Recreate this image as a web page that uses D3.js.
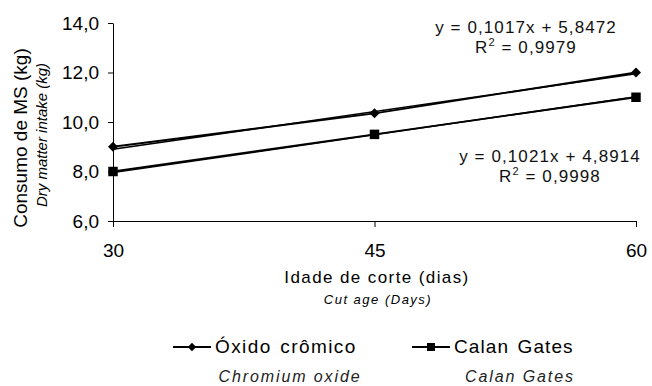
<!DOCTYPE html>
<html>
<head>
<meta charset="utf-8">
<script src="https://cdn.jsdelivr.net/npm/d3@7"></script>
<style>
  body { margin: 0; background: #fff; }
  svg text { font-family: "Liberation Sans", Arial, Helvetica, sans-serif; }
  .axis path, .axis line { stroke: #000; stroke-width: 1; }
  .axis text { font-size: 19px; fill: #000; }
</style>
</head>
<body>
<script>
// Chart data
const days = [30, 45, 60];
const oxido = [9.0, 10.35, 12.0];
const calan = [8.0, 9.5, 11.0];
const yTicks = [6, 8, 10, 12, 14];

// Trend line coefficients (y = a*x + b)
const slopes = [0.1017, 0.1021];
const intercepts = [5.8472, 4.8914];
const eqLabels = ["y = 0,1017x + 5,8472", "y = 0,1021x + 4,8914"];
const r2Labels = ["0,9979", "0,9998"];

const seriesNames = ["Óxido crômico", "Calan Gates"];
const seriesNamesEn = ["Chromium oxide", "Calan Gates"];

// SVG size
const w = 652;
const h = 386;

const x = d3.scaleLinear().domain([30, 60]).range([113, 636]);
const y = d3.scaleLinear().domain([6, 14]).range([221, 23]);

const locale = d3.formatLocale({ decimal: ",", thousands: ".", grouping: [3], currency: ["", ""] });
const fmt = locale.format(".1f");

const svg = d3.select("body")
    .append("svg")
    .attr("width", w)
    .attr("height", h);

// Y axis
svg.append("g")
    .attr("class", "axis")
    .attr("transform", "translate(113,0)")
    .call(d3.axisLeft(y).tickValues(yTicks).tickFormat(fmt).tickSize(5).tickSizeOuter(0).tickPadding(9));

// X axis
svg.append("g")
    .attr("class", "axis")
    .attr("transform", "translate(0,221)")
    .call(d3.axisBottom(x).tickValues(days).tickFormat(d3.format("d")).tickSize(6).tickSizeOuter(0).tickPadding(17));

// Trend lines
slopes.forEach((a, i) => {
    const b = intercepts[i];
    svg.append("line")
        .attr("x1", x(30)).attr("y1", y(a * 30 + b))
        .attr("x2", x(60)).attr("y2", y(a * 60 + b))
        .attr("stroke", "#000")
        .attr("stroke-width", 1.5);
});

// Data lines
const line = d3.line()
    .x((d, i) => x(days[i]))
    .y(d => y(d));

[oxido, calan].forEach(s => {
    svg.append("path")
        .datum(s)
        .attr("fill", "none")
        .attr("stroke", "#000")
        .attr("stroke-width", 1.8)
        .attr("d", line);
});

// Markers
const diamond = d3.symbol().type(d3.symbolDiamond2).size(64);
const square = d3.symbol().type(d3.symbolSquare).size(90);

svg.selectAll(".m1")
    .data(oxido)
    .join("path")
    .attr("transform", (d, i) => `translate(${x(days[i])},${y(d)})`)
    .attr("d", diamond());

svg.selectAll(".m2")
    .data(calan)
    .join("path")
    .attr("transform", (d, i) => `translate(${x(days[i])},${y(d)})`)
    .attr("d", square());

// Equation labels
const eqPos = [[526, 33], [550, 162]];
eqLabels.forEach((t, i) => {
    svg.append("text")
        .attr("x", eqPos[i][0])
        .attr("y", eqPos[i][1])
        .attr("text-anchor", "middle")
        .attr("font-size", 17)
        .attr("letter-spacing", 1.1)
        .attr("fill", "#111")
        .text(t);
    const r = svg.append("text")
        .attr("x", eqPos[i][0])
        .attr("y", eqPos[i][1] + 20)
        .attr("text-anchor", "middle")
        .attr("font-size", 17)
        .attr("letter-spacing", 1.1)
        .attr("fill", "#111");
    r.append("tspan").text("R");
    r.append("tspan").attr("font-size", 11).attr("dy", -7).text("2");
    r.append("tspan").attr("dy", 7).text(" = " + r2Labels[i]);
});

// Y-axis labels
svg.append("text")
    .attr("transform", "rotate(-90)")
    .attr("x", -138)
    .attr("y", 27)
    .attr("text-anchor", "middle")
    .attr("font-size", 19)
    .text("Consumo de MS (kg)");

svg.append("text")
    .attr("transform", "rotate(-90)")
    .attr("x", -135)
    .attr("y", 47)
    .attr("text-anchor", "middle")
    .attr("font-size", 15)
    .attr("font-style", "italic")
    .text("Dry matter intake (kg)");

// X-axis labels
svg.append("text")
    .attr("x", 377)
    .attr("y", 283)
    .attr("text-anchor", "middle")
    .attr("font-size", 17)
    .attr("letter-spacing", 1.4)
    .text("Idade de corte (dias)");

svg.append("text")
    .attr("x", 378)
    .attr("y", 304)
    .attr("text-anchor", "middle")
    .attr("font-size", 13)
    .attr("font-style", "italic")
    .attr("letter-spacing", 1.5)
    .text("Cut age (Days)");

// Legend
const legX = [173, 412];
const legSym = [d3.symbol().type(d3.symbolDiamond2).size(44), d3.symbol().type(d3.symbolSquare).size(64)];
const legEnX = [290, 520];
const legSpacing = [1.4, 1.1];
seriesNames.forEach((n, i) => {
    svg.append("line")
        .attr("x1", legX[i]).attr("x2", legX[i] + 38)
        .attr("y1", 347).attr("y2", 347)
        .attr("stroke", "#000")
        .attr("stroke-width", 2);
    svg.append("path")
        .attr("transform", `translate(${legX[i] + 19},347)`)
        .attr("d", legSym[i]());
    svg.append("text")
        .attr("x", legX[i] + 42)
        .attr("y", 353)
        .attr("font-size", 19)
        .attr("letter-spacing", legSpacing[i])
        .attr("word-spacing", 2)
        .text(n);
    svg.append("text")
        .attr("x", legEnX[i])
        .attr("y", 382)
        .attr("text-anchor", "middle")
        .attr("font-size", 16)
        .attr("font-style", "italic")
        .attr("letter-spacing", 1.9)
        .attr("fill", "#222")
        .text(seriesNamesEn[i]);
});
</script>
</body>
</html>
